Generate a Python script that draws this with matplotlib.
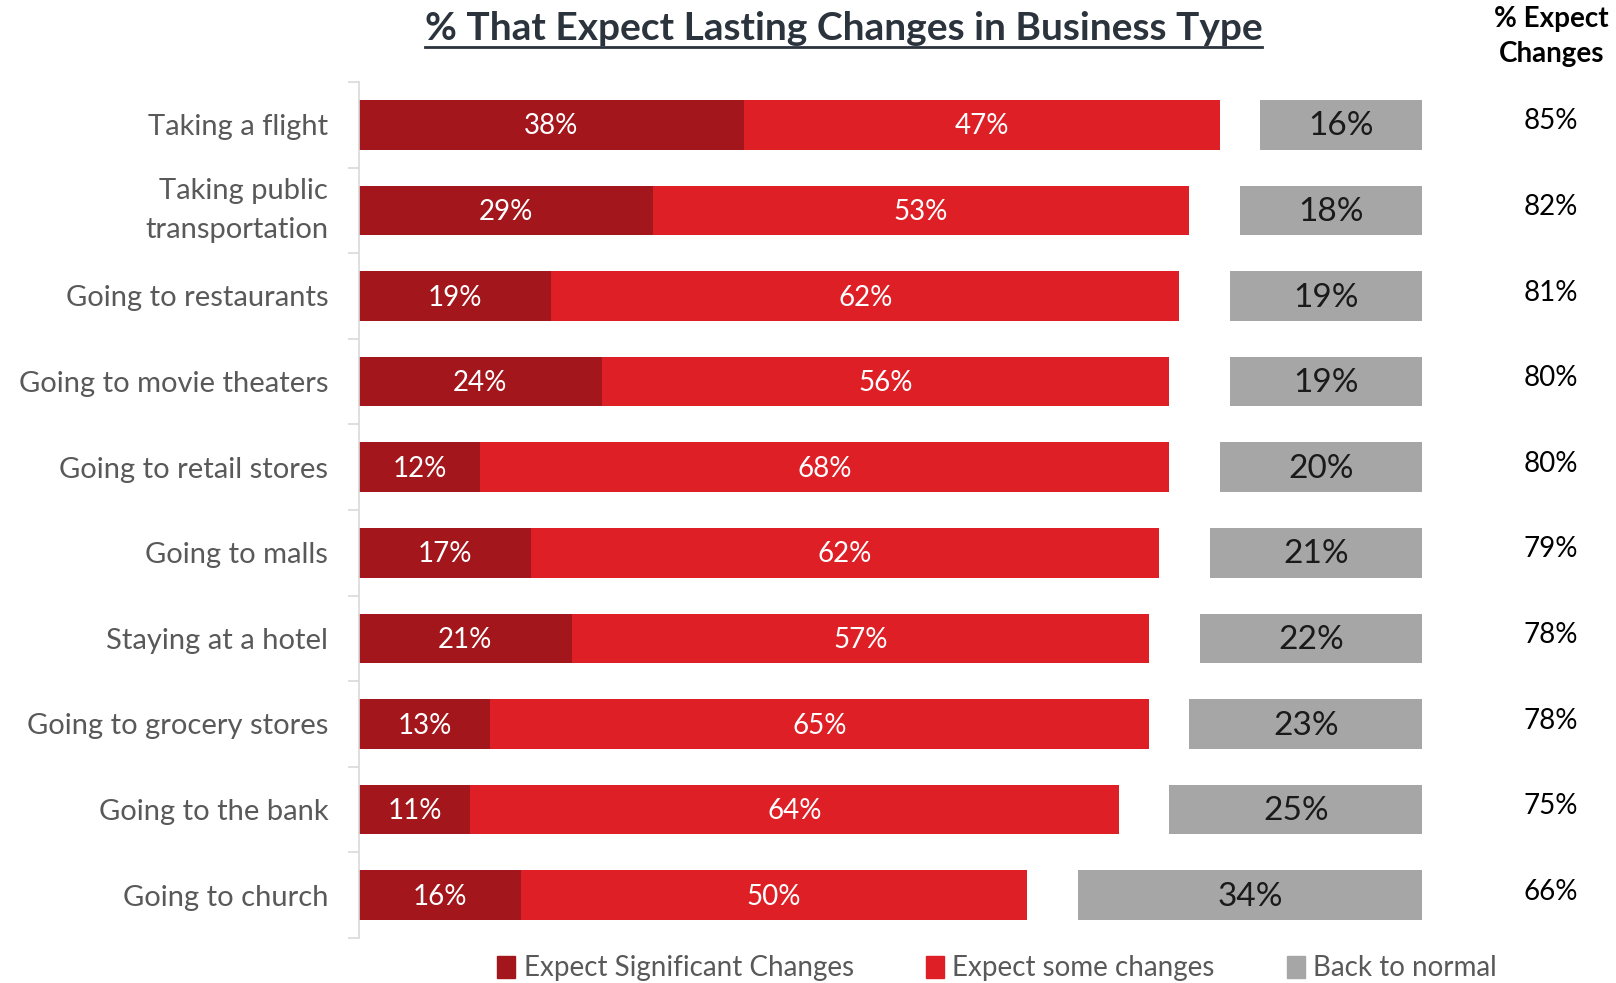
import numpy as np
import matplotlib.pyplot as plt
from matplotlib.patches import Patch

# Survey results per business type (percent of respondents)
categories = ["Taking a flight", "Taking public\ntransportation", "Going to restaurants",
              "Going to movie theaters", "Going to retail stores", "Going to malls",
              "Staying at a hotel", "Going to grocery stores", "Going to the bank",
              "Going to church"]
significant = [38, 29, 19, 24, 12, 17, 21, 13, 11, 16]
some = [47, 53, 62, 56, 68, 62, 57, 65, 64, 50]
normal = [16, 18, 19, 19, 20, 21, 22, 23, 25, 34]
expect_total = [85, 82, 81, 80, 80, 79, 78, 78, 75, 66]

DARK_RED = "#A3161B"
RED = "#DE1F26"
GREY = "#A6A6A6"
TEXT_GREY = "#595959"
TITLE_COLOR = "#2B333D"

plt.rcParams['font.family'] = ['Lato', 'DejaVu Sans']

fig = plt.figure(figsize=(16.16, 9.83), dpi=100)
ax = fig.add_axes([0.222, 0.0458, 0.778, 0.8708])

y = np.arange(len(categories))
sig = np.array(significant)
smo = np.array(some)
nor = np.array(normal)
gray_end = 105  # grey bars share a common right edge

ax.barh(y, sig, height=0.58, color=DARK_RED)
ax.barh(y, smo, left=sig, height=0.58, color=RED)
ax.barh(y, nor, left=gray_end - nor, height=0.58, color=GREY)

for i in range(len(categories)):
    ax.text(sig[i] / 2, y[i] + 0.02, f"{sig[i]}%", ha="center", va="center",
            color="white", fontsize=20)
    ax.text(sig[i] + smo[i] / 2, y[i] + 0.02, f"{smo[i]}%", ha="center", va="center",
            color="white", fontsize=20)
    ax.text(gray_end - nor[i] / 2, y[i] + 0.02, f"{nor[i]}%", ha="center", va="center",
            color="#1A1A1A", fontsize=24)
    ax.text(117.7, y[i] - 0.04, f"{expect_total[i]}%", ha="center", va="center",
            color="black", fontsize=20)

ax.set_xlim(0, 124.1)
ax.set_ylim(len(categories) - 0.5, -0.5)

# category labels at bar centres, separator ticks between rows
ax.set_yticks(y)
ax.set_yticklabels(categories, fontsize=21, color=TEXT_GREY, linespacing=1.6)
for lbl in ax.get_yticklabels():
    if "\n" in lbl.get_text():
        lbl.set_verticalalignment("center")
ax.tick_params(axis="y", which="major", length=0, pad=22)
ax.set_yticks(np.arange(len(categories) + 1) - 0.5, minor=True)
ax.tick_params(axis="y", which="minor", length=8, color="#D9D9D9", width=1.2)
ax.set_xticks([])
for s in ["top", "right", "bottom"]:
    ax.spines[s].set_visible(False)
ax.spines["left"].set_color("#D9D9D9")
ax.spines["left"].set_linewidth(1.2)

title = fig.text(0.522, 0.971, "% That Expect Lasting Changes in Business Type",
                 ha="center", va="center", fontsize=28, fontweight="bold",
                 color=TITLE_COLOR)

fig.text(0.96, 0.963, "% Expect\nChanges", ha="center", va="center",
         fontsize=20, fontweight="bold", color="black", linespacing=1.45)

handles = [Patch(color=DARK_RED), Patch(color=RED), Patch(color=GREY)]
fig.legend(handles, ["Expect Significant Changes", "Expect some changes", "Back to normal"],
           loc="center", bbox_to_anchor=(0.617, 0.015), ncol=3, frameon=False,
           fontsize=20, labelcolor=TEXT_GREY, handlelength=0.65, handleheight=0.85,
           handletextpad=0.3, columnspacing=2.6)

# underline the title across its rendered width
fig.canvas.draw()
bb = title.get_window_extent().transformed(fig.transFigure.inverted())
fig.add_artist(plt.Line2D([bb.x0, bb.x1], [0.952, 0.952], color=TITLE_COLOR, lw=2))

fig.savefig("out.png", dpi=100)
